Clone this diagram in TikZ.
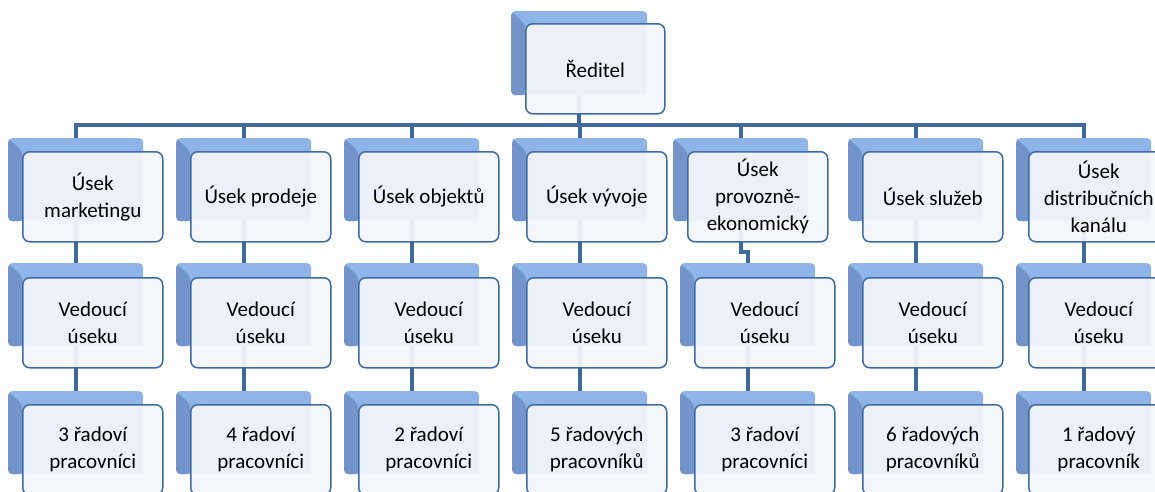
\documentclass[tikz,border=0pt]{standalone}
\usepackage{fontspec}
\setmainfont{Carlito}
\pgfdeclarelayer{bg}
\pgfsetlayers{bg,main}
\definecolor{conncol}{HTML}{41699E}
\definecolor{backlight}{HTML}{8EB4E8}
\definecolor{backdark}{HTML}{7394C8}
\definecolor{frontfill}{HTML}{F2F5FB}
\definecolor{frontdraw}{HTML}{3D6AA6}
\begin{document}
\begin{tikzpicture}[x=1pt,y=-1pt,
  backbox/.style={anchor=north west, minimum width=135pt, minimum height=83pt, inner sep=0pt,
    rounded corners=4pt, fill=backlight,
    path picture={\fill[backdark] (path picture bounding box.north west) -- ++(14pt,-13pt)
      -- ([xshift=14pt]path picture bounding box.south west) -- (path picture bounding box.south west) -- cycle;}},
  frontbox/.style={anchor=north west, minimum width=140pt, minimum height=90pt, inner sep=2pt,
    rounded corners=7pt, draw=frontdraw, line width=1.5pt, fill=frontfill, fill opacity=0.94,
    text opacity=1, align=center, font=\fontsize{21}{27}\selectfont, text=black},
  conn/.style={draw=conncol, line width=4pt, line join=miter}]
\useasboundingbox (0,0) rectangle (1155,491);
\clip (0,0) rectangle (1155,491);

% director
\node[backbox, minimum width=136pt, minimum height=84pt] (db) at (511,11) {};
\node[frontbox, minimum width=139pt] (df) at (525,23) {Ředitel};

% level 1 back boxes
\node[backbox] (b1-1) at (8,138) {};
\node[backbox] (b1-2) at (176,138) {};
\node[backbox] (b1-3) at (344,138) {};
\node[backbox] (b1-4) at (512,138) {};
\node[backbox] (b1-5) at (673,138) {};
\node[backbox] (b1-6) at (848,138) {};
\node[backbox] (b1-7) at (1016,138) {};
% level 1 front boxes
\node[frontbox] (f1-1) at (22,151) {Úsek\\marketingu};
\node[frontbox] (f1-2) at (190,151) {Úsek prodeje};
\node[frontbox] (f1-3) at (358,151) {Úsek objektů};
\node[frontbox] (f1-4) at (526,151) {Úsek vývoje};
\node[frontbox] (f1-5) at (687,151) {Úsek\\provozně-\\ekonomický};
\node[frontbox] (f1-6) at (862,151) {Úsek služeb};
\node[frontbox] (f1-7) at (1028,151) {Úsek\\distribučních\\kanálu};

% level 2
\node[backbox] (b2-1) at (8,263) {};
\node[backbox] (b2-2) at (176,263) {};
\node[backbox] (b2-3) at (344,263) {};
\node[backbox] (b2-4) at (512,263) {};
\node[backbox] (b2-5) at (680,263) {};
\node[backbox] (b2-6) at (848,263) {};
\node[backbox] (b2-7) at (1016,263) {};
\node[frontbox] (f2-1) at (22,277) {Vedoucí\\úseku};
\node[frontbox] (f2-2) at (190,277) {Vedoucí\\úseku};
\node[frontbox] (f2-3) at (358,277) {Vedoucí\\úseku};
\node[frontbox] (f2-4) at (526,277) {Vedoucí\\úseku};
\node[frontbox] (f2-5) at (694,277) {Vedoucí\\úseku};
\node[frontbox] (f2-6) at (862,277) {Vedoucí\\úseku};
\node[frontbox] (f2-7) at (1028,277) {Vedoucí\\úseku};

% level 3
\node[backbox] (b3-1) at (8,391) {};
\node[backbox] (b3-2) at (176,391) {};
\node[backbox] (b3-3) at (344,391) {};
\node[backbox] (b3-4) at (512,391) {};
\node[backbox] (b3-5) at (680,391) {};
\node[backbox] (b3-6) at (848,391) {};
\node[backbox] (b3-7) at (1016,391) {};
\node[frontbox] (f3-1) at (22,404) {3 řadoví\\pracovníci};
\node[frontbox] (f3-2) at (190,404) {4 řadoví\\pracovníci};
\node[frontbox] (f3-3) at (358,404) {2 řadoví\\pracovníci};
\node[frontbox] (f3-4) at (526,404) {5 řadových\\pracovníků};
\node[frontbox] (f3-5) at (694,404) {3 řadoví\\pracovníci};
\node[frontbox] (f3-6) at (862,404) {6 řadových\\pracovníků};
\node[frontbox] (f3-7) at (1028,404) {1 řadový\\pracovník};

\coordinate (bus) at (0,125);
\begin{pgfonlayer}{bg}
  \foreach \i in {1,...,7} {
    \draw[conn] (db.south) -- (db.south |- bus) -| (b1-\i.north);
  }
  \foreach \i in {1,2,3,4,6,7} {
    \draw[conn] (b1-\i.south) -- (b2-\i.north);
  }
  \draw[conn] (b1-5.south) |- ([yshift=11pt]b2-5.north) -- (b2-5.north);
  \foreach \i in {1,...,7} {
    \draw[conn] (b2-\i.south) -- (b3-\i.north);
  }
\end{pgfonlayer}
\end{tikzpicture}
\end{document}
